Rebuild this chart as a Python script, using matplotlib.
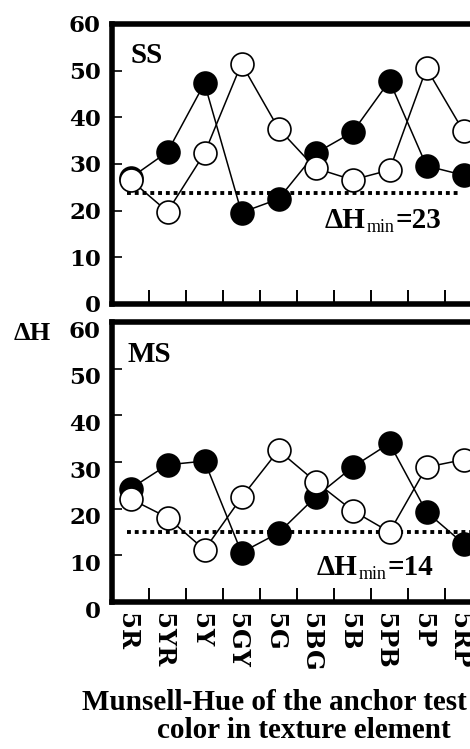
import matplotlib
matplotlib.use("Agg")
import matplotlib.pyplot as plt
import matplotlib.transforms as mtransforms
import numpy as np

hues = ["5R", "5YR", "5Y", "5GY", "5G", "5BG", "5B", "5PB", "5P", "5RP"]
yticks = [0, 10, 20, 30, 40, 50, 60]

ss_filled = [27.0, 32.6, 47.3, 19.6, 22.5, 32.3, 36.8, 47.8, 29.6, 27.6]
ss_open = [26.6, 19.8, 32.3, 51.5, 37.6, 29.1, 26.6, 28.7, 50.5, 37.0]
ss_min_line = 23.8
ss_min_label = 23

ms_filled = [24.3, 29.4, 30.2, 10.6, 14.8, 22.5, 28.9, 34.0, 19.3, 12.5]
ms_open = [22.1, 18.1, 11.2, 22.4, 32.5, 25.8, 19.6, 15.0, 28.9, 30.5]
ms_min_line = 15.1
ms_min_label = 14

W, H = 470, 749
fig = plt.figure(figsize=(W / 100, H / 100), dpi=100)

def frac_rect(left_px, top_px, right_px, bottom_px):
    return [left_px / W, 1 - bottom_px / H, (right_px - left_px) / W, (bottom_px - top_px) / H]

ax1 = fig.add_axes(frac_rect(112, 24, 482, 304))
ax2 = fig.add_axes(frac_rect(112, 322, 482, 602))

x = np.arange(len(hues)) + 0.5
tick_font = dict(family='DejaVu Serif', weight='bold', size=16.5)
lab_font = dict(family='Liberation Serif', weight='bold')

panels = [
    (ax1, ss_filled, ss_open, ss_min_line, ss_min_label, "SS", (0.049, 0.861), (0.576, 0.271), (0.04, 0.935)),
    (ax2, ms_filled, ms_open, ms_min_line, ms_min_label, "MS", (0.043, 0.856), (0.554, 0.095), (0.04, 1.02)),
]

ident = mtransforms.IdentityTransform()
label_specs = []
for ax, fil, opn, mline, mlab, name, npos, lpos, dspan in panels:
    ax.plot(x, fil, '-', color='black', lw=1.1, marker='o', ms=16.5,
            mfc='black', mec='black', mew=1.2, zorder=3, clip_on=False)
    ax.plot(x, opn, '-', color='black', lw=1.1, marker='o', ms=16.5,
            mfc='white', mec='black', mew=1.2, zorder=4, clip_on=False)
    ax.plot([dspan[0] * 10, dspan[1] * 10], [mline, mline], color='black',
            lw=2.8, linestyle=(0, (1, 1.0)), dash_capstyle='butt', zorder=2)
    ax.set_xlim(0, 10)
    ax.set_ylim(0, 60)
    for s in ax.spines.values():
        s.set_linewidth(4)
    ax.set_yticks(yticks)
    ax.set_yticklabels([str(v) for v in yticks], fontdict=tick_font)
    ax.tick_params(axis='y', direction='in', length=7, width=1.2, pad=8)
    ax.set_xticks(np.arange(1, 10), minor=True)
    ax.tick_params(axis='x', which='minor', direction='in', length=10, width=1.4)
    ax.text(npos[0], npos[1], name, transform=ax.transAxes, ha='left', va='baseline',
            fontsize=21, **lab_font)
    label_specs.append((ax, lpos, mlab))

ax1.set_xticks(x)
ax1.tick_params(axis='x', which='major', length=0, labelbottom=False)
ax2.set_xticks(x)
ax2.set_xticklabels(hues, rotation=-90, fontdict=dict(family='DejaVu Serif', weight='bold', size=17.5))
ax2.tick_params(axis='x', which='major', length=0, pad=8)

# lower panel y tick labels sit slightly lower, as in the original
off = mtransforms.ScaledTranslation(0, -7 / 100, fig.dpi_scale_trans)
for lbl in ax2.get_yticklabels():
    lbl.set_transform(lbl.get_transform() + off)
# hue labels sit a little left of the markers
offx = mtransforms.ScaledTranslation(-4 / 100, 0, fig.dpi_scale_trans)
for lbl in ax2.get_xticklabels():
    lbl.set_transform(lbl.get_transform() + offx)

fig.text(32 / W, 1 - 334 / H, "ΔH", ha='center', va='center', fontsize=19, **lab_font)
fig.text(274 / W, 1 - 703 / H, "Munsell-Hue of the anchor test", ha='center', va='center',
         fontsize=21, **lab_font)
fig.text(304 / W, 1 - 731 / H, "color in texture element", ha='center', va='center',
         fontsize=21, **lab_font)

# ΔH_min = value labels, built from pieces so the "=" has no extra spacing
fig.canvas.draw()
renderer = fig.canvas.get_renderer()
for ax, lpos, mlab in label_specs:
    bx, by = ax.transAxes.transform(lpos)
    t1 = fig.text(bx, by, "ΔH", transform=ident, ha='left', va='baseline', fontsize=21, **lab_font)
    x1 = t1.get_window_extent(renderer).x1
    t2 = fig.text(x1 + 1, by - 4, "min", transform=ident, ha='left', va='baseline',
                  fontsize=13, family='Liberation Serif')
    x2 = t2.get_window_extent(renderer).x1
    fig.text(x2 + 1, by, "=%d" % mlab, transform=ident, ha='left', va='baseline', fontsize=21, **lab_font)

fig.savefig("out.png", dpi=100)
